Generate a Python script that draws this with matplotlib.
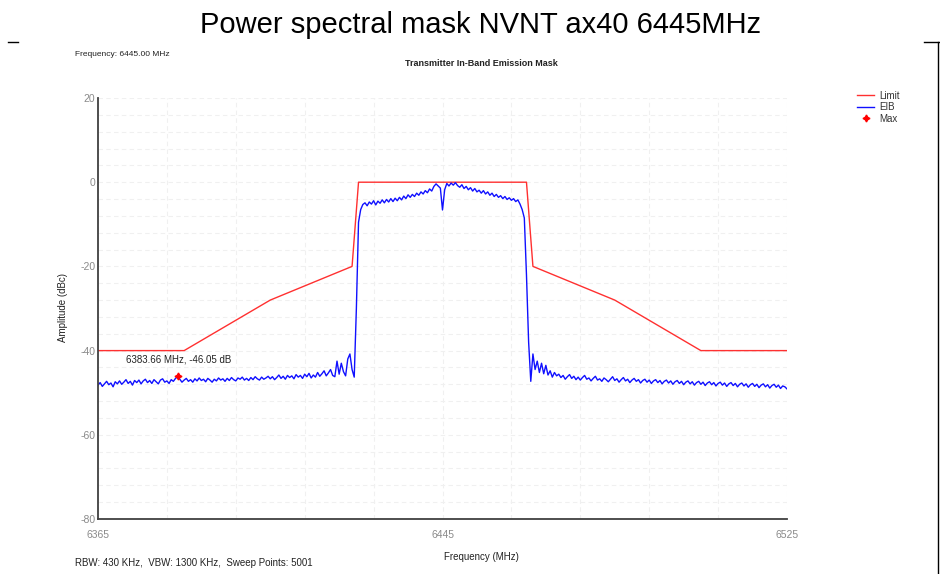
import numpy as np
import matplotlib
matplotlib.use('Agg')
import matplotlib.pyplot as plt
from matplotlib.lines import Line2D

plt.rcParams['font.family'] = ['Liberation Sans', 'DejaVu Sans']

# mask limit (dBc)
limit_freq = [6365, 6385, 6405, 6424, 6425.5, 6464.5, 6466, 6485, 6505, 6525]
limit_amp = [-40, -40, -28, -20, 0, 0, -20, -28, -40, -40]

# measured emission trace, read every 0.5 MHz from 6365 to 6525 MHz
eib_freq = np.linspace(6365, 6525, 321)
eib_amp = [
    # 6365 - 6374.5
    -48.2, -47.6, -48.5, -47.9, -47.3, -48.1, -47.7, -48.6, -47.4, -47.9,
    -47.2, -48.0, -47.5, -46.9, -47.8, -47.3, -48.2, -47.1, -47.6, -47.0,
    # 6375 - 6384.5
    -47.9, -47.2, -46.8, -47.6, -47.1, -47.8, -46.9, -47.4, -47.9, -47.0,
    -46.7, -47.5, -47.2, -47.8, -46.9, -47.3, -46.6, -46.2, -46.8, -47.5,
    # 6385 - 6394.5
    -47.0, -46.6, -47.3, -46.9, -47.5, -46.7, -47.2, -46.5, -47.1, -46.8,
    -47.4, -46.6, -47.0, -47.5, -46.8, -47.2, -46.5, -47.0, -46.7, -47.3,
    # 6395 - 6404.5
    -46.6, -47.1, -46.4, -46.9, -47.2, -46.5, -46.8, -46.3, -47.0, -46.6,
    -47.1, -46.4, -46.9, -46.2, -46.7, -47.0, -46.3, -46.8, -46.5, -46.1,
    # 6405 - 6414.5
    -46.7, -46.2, -46.9, -46.4, -45.8, -46.6, -46.1, -46.8, -45.9, -46.4,
    -46.0, -46.7, -45.7, -46.3, -45.9, -46.6, -45.6, -46.2, -45.4, -46.5,
    # 6415 - 6419.5
    -45.8, -46.3, -45.2, -46.1, -45.5, -44.8, -46.0, -45.3, -44.5, -45.9,
    # 6420 - 6424.5
    -46.2, -42.5, -45.6, -43.0, -45.0, -46.0, -42.0, -40.8, -44.5, -46.3,
    # 6425 - 6426
    -30.0, -9.5, -6.5,
    # 6426.5 - 6434.5
    -5.3, -4.9, -5.6, -4.7, -5.2, -4.4, -5.4, -4.5, -5.0, -4.2,
    -4.9, -4.1, -4.7, -3.9, -4.6, -3.8, -4.4,
    # 6435 - 6444.5
    -3.6, -4.2, -3.3, -3.9, -3.0, -3.6, -2.9, -3.4, -2.6, -3.1,
    -2.3, -2.8, -2.0, -2.5, -1.6, -2.1, -1.0, -0.4, -0.9, -1.4,
    # 6445 (notch)
    -6.6,
    # 6445.5 - 6454.5
    -1.8, -0.3, -0.9, -0.2, -0.7, -0.1, -0.8, -1.2, -0.6, -1.5,
    -1.0, -1.8, -1.3, -2.1, -1.5, -2.3, -1.9, -2.6, -2.0,
    # 6455 - 6463
    -2.8, -2.3, -3.1, -2.6, -3.4, -2.9, -3.6, -3.2, -3.9, -3.4,
    -4.1, -3.7, -4.3, -3.9, -4.6, -4.2, -5.2,
    # 6463.5 - 6471.5
    -6.5, -8.5, -22.0, -38.0, -47.3, -40.8, -44.5, -42.5, -45.2, -43.0,
    -45.5, -43.5, -45.8, -44.8, -46.3, -45.2, -46.0,
    # 6472 - 6481.5
    -45.6, -46.4, -45.9, -46.8, -46.2, -45.7, -46.6, -46.1, -46.9, -46.3,
    -47.0, -46.4, -45.9, -46.8, -46.5, -47.2, -46.6, -46.1, -47.0, -46.7,
    # 6482 - 6491.5
    -47.3, -46.5, -46.9, -47.4, -46.8, -46.2, -47.1, -46.7, -47.5, -46.9,
    -46.4, -47.2, -46.8, -47.6, -47.0, -46.6, -47.3, -46.9, -47.7, -47.1,
    # 6492 - 6501.5
    -46.8, -47.5, -47.0, -47.8, -47.2, -46.9, -47.6, -47.1, -47.9, -47.3,
    -47.0, -47.7, -47.2, -48.0, -47.4, -47.1, -47.8, -47.3, -48.1, -47.5,
    # 6502 - 6511.5
    -47.2, -47.9, -47.4, -48.2, -47.6, -47.3, -48.0, -47.5, -48.3, -47.7,
    -47.4, -48.1, -47.6, -48.4, -47.8, -47.5, -48.2, -47.7, -48.5, -47.9,
    # 6512 - 6521.5
    -47.6, -48.3, -47.8, -48.6, -48.0, -47.7, -48.4, -47.9, -48.7, -48.1,
    -47.8, -48.5, -48.0, -48.8, -48.2, -47.9, -48.6, -48.1, -48.9, -48.3,
    # 6522 - 6525
    -48.0, -48.7, -48.2, -49.0, -48.4, -48.6, -49.1,
]

max_freq = 6383.66
max_amp = -46.05

fig = plt.figure(figsize=(9.4, 5.74), dpi=100)
ax = fig.add_axes([98 / 940, 1 - 519 / 574, 689 / 940, 421 / 574])

line_limit, = ax.plot(limit_freq, limit_amp, color='#ff3030', lw=1.0, label='Limit')
line_eib, = ax.plot(eib_freq, eib_amp, color='#1010ff', lw=1.0, label='EIB')
mark_max, = ax.plot([max_freq], [max_amp], ls='none', marker=(4, 1, 0), ms=5,
                    color='#ff0000', label='Max')
ax.annotate(f"{max_freq:.2f} MHz, {max_amp:.2f} dB", (max_freq, max_amp),
            xytext=(0, 8), textcoords='offset points', ha='center', va='bottom',
            fontsize=7, color='#222222')

ax.set_xlim(6365, 6525)
ax.set_ylim(-80, 20)

xt = np.arange(6365, 6526, 16)
ax.set_xticks(xt)
ax.set_xticklabels([str(v) if v in (6365, 6445, 6525) else '' for v in xt])
yt = np.arange(-80, 21, 4)
ax.set_yticks(yt)
ax.set_yticklabels([str(v) if v % 20 == 0 else '' for v in yt])
ax.tick_params(axis='both', length=0, labelsize=7.5, labelcolor='#8a8a8a')
ax.tick_params(axis='x', pad=8)
ax.tick_params(axis='y', pad=2)

ax.grid(True, color='#f0f0f0', lw=0.8, ls=(0, (4, 3)))
ax.set_axisbelow(True)
for side in ('top', 'right'):
    ax.spines[side].set_visible(False)
for side in ('left', 'bottom'):
    ax.spines[side].set_color('#404040')
    ax.spines[side].set_linewidth(1.3)

fig.text(481 / 940, 1 - 25 / 574, "Power spectral mask NVNT ax40 6445MHz",
         ha='center', va='center', fontsize=21)
fig.text(75 / 940, 1 - 55 / 574, "Frequency: 6445.00 MHz", ha='left', va='center',
         fontsize=6, color='#222222')
fig.text(481 / 940, 1 - 64 / 574, "Transmitter In-Band Emission Mask", ha='center',
         va='center', fontsize=6.5, fontweight='bold', color='#222222')
fig.text(63 / 940, 1 - 307 / 574, "Amplitude (dBc)", rotation=90, ha='center',
         va='center', fontsize=7, color='#222222')
fig.text(481 / 940, 1 - 557 / 574, "Frequency (MHz)", ha='center', va='center',
         fontsize=7, color='#222222')
fig.text(75 / 940, 1 - 563 / 574, "RBW: 430 KHz,  VBW: 1300 KHz,  Sweep Points: 5001",
         ha='left', va='center', fontsize=7, color='#222222')

fig.legend(handles=[line_limit, line_eib, mark_max], loc='upper left',
           bbox_to_anchor=(848 / 940, 1 - 82 / 574), frameon=False, fontsize=7,
           handlelength=1.8, handletextpad=0.5, labelspacing=0.15,
           labelcolor='#333333')

# frame lines of the surrounding page
fig.add_artist(Line2D([8 / 940, 18 / 940], [1 - 42 / 574] * 2, color='black', lw=1))
fig.add_artist(Line2D([924 / 940, 1.0], [1 - 42 / 574] * 2, color='black', lw=1))
fig.add_artist(Line2D([937.5 / 940] * 2, [0, 1 - 42 / 574], color='black', lw=1))

fig.savefig('out.png', dpi=100)
